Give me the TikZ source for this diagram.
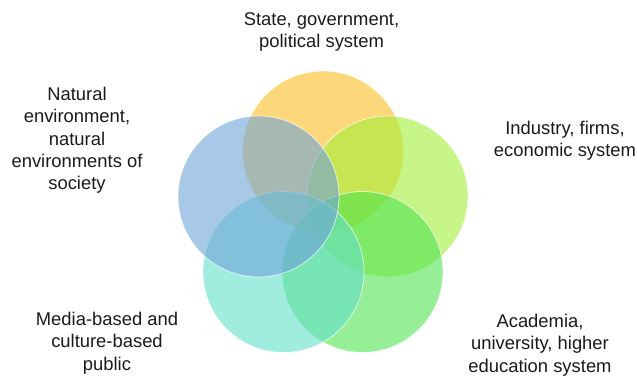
\documentclass[tikz,border=0pt]{standalone}
\usepackage{fontspec}
\setmainfont{Liberation Sans}
\definecolor{cYellow}{RGB}{252,190,33}
\definecolor{cBlue}{RGB}{110,163,217}
\definecolor{cLime}{RGB}{163,238,55}
\definecolor{cTeal}{RGB}{97,223,200}
\definecolor{cGreen}{RGB}{80,227,80}
\definecolor{ink}{RGB}{26,26,26}
\begin{document}
\begin{tikzpicture}[x=1pt,y=-1pt,
  disc/.style={circle, minimum size=161pt, inner sep=0pt,
    fill opacity=0.6, draw=white, draw opacity=0.7, line width=0.8pt},
  txt/.style={align=center, text=ink,
    font=\fontsize{18.4}{22.3}\selectfont}]
\useasboundingbox (0,0) rectangle (637,375);
% five overlapping spheres, drawn clockwise from the top
\node[disc, fill=cYellow] (state)    at (323,151.5) {};
\node[disc, fill=cLime]   (industry) at (387.5,196.5) {};
\node[disc, fill=cGreen]  (academia) at (362.5,272) {};
\node[disc, fill=cTeal]   (media)    at (283.5,272) {};
\node[disc, fill=cBlue]   (nature)   at (258.5,196.5) {};
% captions
\node[txt] (tstate)    at (321.5,32)  {State, government,\\political system};
\node[txt] (tindustry) at (565,141)   {Industry, firms,\\economic system};
\node[txt] (tacademia) at (540,345)   {Academia,\\university, higher\\education system};
\node[txt] (tmedia)    at (107,343)   {Media-based and\\culture-based\\public};
\node[txt] (tnature)   at (77,140.5)  {Natural\\environment,\\natural\\environments of\\society};
\end{tikzpicture}
\end{document}
